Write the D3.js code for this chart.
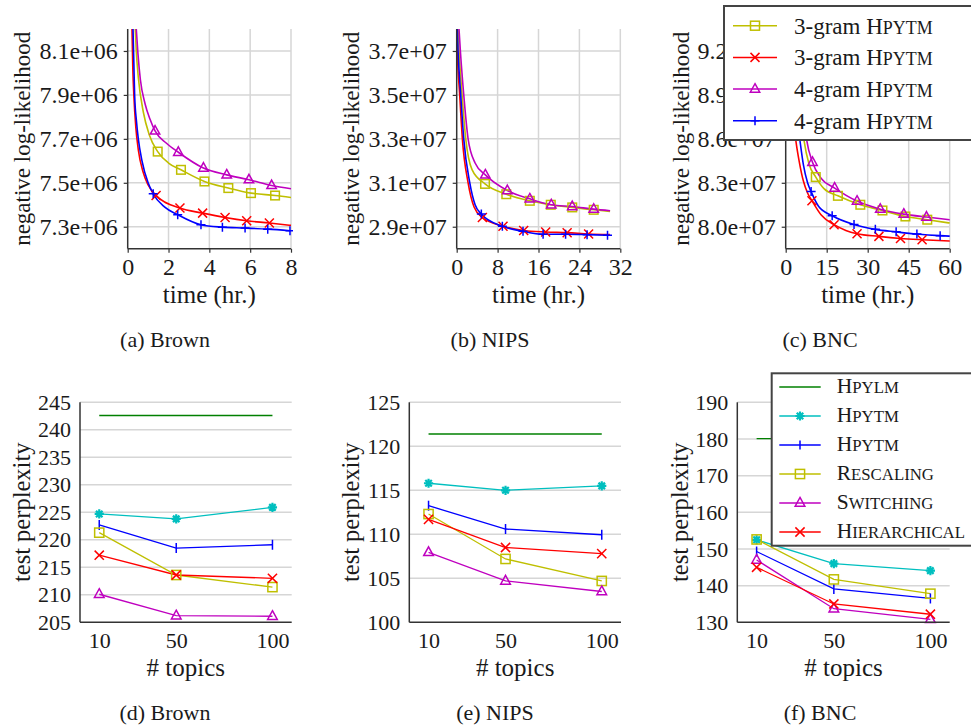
<!DOCTYPE html>
<html>
<head>
<meta charset="utf-8">
<script src="https://cdn.jsdelivr.net/npm/d3@7"></script>
<style>
  body { margin: 0; background: #fff; }
  svg text { font-family: "Liberation Serif", "Times New Roman", serif; fill: #1a1a1a; }
</style>
</head>
<body>
<div id="fig"></div>
<script>
// ---- top row: negative log-likelihood vs time (hr.)  [t, value, marker?]
var brownSq  = [[0.35,8.24e6],[0.42,8.10e6],[0.52,7.98e6],[0.77,7.82e6],[1.05,7.72e6],[1.47,7.642e6,1],[2.0,7.59e6],[2.61,7.559e6,1],[3.76,7.506e6,1],[4.93,7.476e6,1],[6.04,7.453e6,1],[7.22,7.442e6,1],[8,7.433e6]];
var brownX   = [[0.21,8.20e6],[0.25,8.02e6],[0.30,7.90e6],[0.40,7.75e6],[0.52,7.65e6],[0.75,7.55e6],[1.0,7.49e6],[1.39,7.442e6,1],[2.56,7.385e6,1],[3.67,7.362e6,1],[4.77,7.342e6,1],[5.83,7.327e6,1],[6.94,7.317e6,1],[8,7.306e6]];
var brownTri = [[0.42,8.20e6],[0.50,8.09e6],[0.62,7.97e6],[0.85,7.86e6],[1.09,7.79e6],[1.34,7.736e6,1],[1.9,7.68e6],[2.48,7.639e6,1],[3.71,7.567e6,1],[4.85,7.536e6,1],[5.94,7.514e6,1],[7.05,7.488e6,1],[8,7.473e6]];
var brownPlus= [[0.26,8.20e6],[0.30,8.05e6],[0.34,7.90e6],[0.43,7.78e6],[0.52,7.70e6],[0.70,7.60e6],[1.0,7.50e6],[1.25,7.45e6,1],[1.8,7.39e6],[2.45,7.355e6,1],[3.59,7.309e6,1],[4.64,7.298e6,1],[5.75,7.294e6,1],[6.86,7.289e6,1],[7.95,7.282e6,1]];

var nipsSq   = [[0.25,3.80e7],[0.46,3.70e7],[1.05,3.50e7],[1.77,3.30e7],[3.0,3.16e7],[5.54,3.095e7,1],[9.7,3.048e7,1],[14.3,3.018e7,1],[18.4,3.000e7,1],[22.6,2.988e7,1],[26.8,2.977e7,1],[30,2.970e7]];
var nipsX    = [[0.05,3.80e7],[0.13,3.70e7],[0.59,3.50e7],[1.11,3.30e7],[2.23,3.10e7],[3.4,2.99e7],[5.02,2.942e7,1],[9.06,2.902e7,1],[13.1,2.883e7,1],[17.4,2.876e7,1],[21.6,2.873e7,1],[25.8,2.867e7,1],[30,2.864e7]];
var nipsTri  = [[0.45,3.80e7],[0.72,3.70e7],[1.38,3.50e7],[2.23,3.30e7],[3.6,3.19e7],[5.6,3.136e7,1],[9.9,3.065e7,1],[14.3,3.027e7,1],[18.5,3.000e7,1],[22.6,2.992e7,1],[26.8,2.980e7,1],[30,2.973e7]];
var nipsPlus = [[0.10,3.80e7],[0.26,3.70e7],[0.79,3.50e7],[1.38,3.30e7],[2.56,3.10e7],[3.6,3.00e7],[4.82,2.958e7,1],[8.93,2.902e7,1],[12.97,2.879e7,1],[16.9,2.866e7,1],[21.3,2.866e7,1],[25.5,2.864e7,1],[29.5,2.861e7,1]];

var bncSq    = [[5.8,8.72e7],[6.7,8.59e7],[8.5,8.43e7],[11.0,8.339e7,1],[14,8.26e7],[19.1,8.211e7,1],[27.3,8.150e7,1],[35.4,8.111e7,1],[43.8,8.070e7,1],[51.8,8.048e7,1],[60,8.025e7]];
var bncX     = [[3.0,8.70e7],[3.7,8.59e7],[5.0,8.44e7],[6.5,8.31e7],[8.0,8.23e7],[9.6,8.178e7,1],[13,8.08e7],[17.7,8.014e7,1],[22,7.975e7],[26.1,7.952e7,1],[34.1,7.934e7,1],[42,7.920e7,1],[49.9,7.911e7,1],[60,7.902e7]];
var bncTri   = [[6.8,8.72e7],[7.7,8.59e7],[9.8,8.44e7,1],[13,8.33e7],[17.9,8.264e7,1],[26.1,8.175e7,1],[34.6,8.120e7,1],[43.2,8.086e7,1],[51.5,8.066e7,1],[60,8.048e7]];
var bncPlus  = [[4.3,8.72e7],[5.2,8.59e7],[6.5,8.42e7],[8.0,8.30e7],[9.3,8.24e7,1],[12,8.14e7],[17.0,8.075e7,1],[25.0,8.015e7,1],[32.8,7.982e7,1],[40.4,7.965e7,1],[48,7.950e7,1],[56.5,7.939e7,1],[60,7.936e7]];

var topLabels = ["3-gram", "3-gram", "4-gram", "4-gram"];

// ---- bottom row: test perplexity vs # topics
var topics = [10, 50, 100];
var brownHpylm        = [242.6, 242.6, 242.6];
var brownHpytmA       = [224.7, 223.8, 225.9];
var brownHpytmB       = [222.7, 218.5, 219.1];
var brownRescaling    = [221.3, 213.6, 211.4];
var brownSwitching    = [210.1, 206.2, 206.1];
var brownHierarchical = [217.2, 213.6, 213.0];

var nipsHpylm        = [121.4, 121.4, 121.4];
var nipsHpytmA       = [115.8, 115.0, 115.5];
var nipsHpytmB       = [113.25, 110.6, 109.95];
var nipsRescaling    = [112.3, 107.2, 104.7];
var nipsSwitching    = [107.95, 104.7, 103.5];
var nipsHierarchical = [111.7, 108.5, 107.8];

var bncHpylm        = [180.1, 180.1, 180.1];
var bncHpytmA       = [152.5, 146.0, 144.1];
var bncHpytmB       = [149.3, 139.1, 136.5];
var bncRescaling    = [152.6, 141.7, 137.8];
var bncSwitching    = [147.0, 133.7, 130.8];
var bncHierarchical = [145.0, 135.0, 132.2];

var bottomLabels = ["Hpylm", "Hpytm", "Hpytm", "Rescaling", "Switching", "Hierarchical"];

var FONT = '"Liberation Serif", "Times New Roman", serif';
var C = { y: "#bfbf00", r: "#ff0000", m: "#bf00bf", b: "#0000ff", c: "#00bfbf", g: "#008000" };

var svg = d3.select("#fig").append("svg").attr("width", 971).attr("height", 725)
  .style("font-family", FONT);

function marker(g, type, cx, cy, color, r) {
  var s = g.append("g").attr("transform", "translate(" + cx + "," + cy + ")")
    .attr("stroke", color).attr("fill", "none").attr("stroke-width", 1.5);
  if (type == "square") s.append("rect").attr("x", -r).attr("y", -r).attr("width", 2 * r).attr("height", 2 * r);
  else if (type == "tri") s.append("path").attr("d", "M0," + (-r * 1.2) + "L" + (r * 1.05) + "," + (r * 0.7) + "L" + (-r * 1.05) + "," + (r * 0.7) + "Z");
  else if (type == "x") s.append("path").attr("d", "M" + -r + "," + -r + "L" + r + "," + r + "M" + -r + "," + r + "L" + r + "," + -r);
  else if (type == "plus") s.append("path").attr("d", "M" + -r + ",0L" + r + ",0M0," + -r + "L0," + r);
  else if (type == "bar") s.append("path").attr("d", "M0," + -r + "L0," + r);
  else if (type == "star") {
    s.attr("stroke-width", 2.2);
    var d = "";
    [0, 45, 90, 135].forEach(function(a) {
      var dx = r * Math.cos(a * Math.PI / 180), dy = r * Math.sin(a * Math.PI / 180);
      d += "M" + -dx + "," + -dy + "L" + dx + "," + dy;
    });
    s.append("path").attr("d", d);
  }
}

// small caps by hand: first letter full size, the rest upper case and smaller
function smallCaps(text, word, size) {
  text.append("tspan").style("font-size", size + "px").text(word[0]);
  text.append("tspan").style("font-size", (size * 0.78) + "px").text(word.slice(1).toUpperCase());
}

function styleAxis(ax, size) {
  ax.attr("font-family", null).attr("font-size", null);
  ax.select(".domain").attr("stroke", "#333").attr("stroke-width", 1.5);
  ax.selectAll(".tick line").attr("stroke", "#333").attr("stroke-width", 1.2);
  ax.selectAll("text").style("font-family", FONT).style("font-size", size + "px").attr("fill", "#1a1a1a");
}

// ---------------- top row ----------------
var topTypes = ["square", "x", "tri", "plus"];
var topColors = [C.y, C.r, C.m, C.b];
var topPanels = [
  { left: 127.7, right: 291, xDom: [0, 8], xTicks: [0, 2, 4, 6, 8], yDom: [7.2e6, 8.2e6], yTicks: [7.3e6, 7.5e6, 7.7e6, 7.9e6, 8.1e6], exp: "e+06", div: 1e6,
    series: [brownSq, brownX, brownTri, brownPlus], titleX: 22, caption: "(a) Brown", capX: 165 },
  { left: 456.7, right: 620.3, xDom: [0, 32], xTicks: [0, 8, 16, 24, 32], yDom: [2.8e7, 3.8e7], yTicks: [2.9e7, 3.1e7, 3.3e7, 3.5e7, 3.7e7], exp: "e+07", div: 1e7,
    series: [nipsSq, nipsX, nipsTri, nipsPlus], titleX: 351, caption: "(b) NIPS", capX: 490 },
  { left: 785.7, right: 949.7, xDom: [0, 60], xTicks: [0, 15, 30, 45, 60], yDom: [7.85e7, 9.35e7], yTicks: [8.0e7, 8.3e7, 8.6e7, 8.9e7, 9.2e7], exp: "e+07", div: 1e7,
    series: [bncSq, bncX, bncTri, bncPlus], titleX: 681, caption: "(c) BNC", capX: 820 }
];
var topTop = 29, topBottom = 248.7;

topPanels.forEach(function(p, pi) {
  var x = d3.scaleLinear().domain(p.xDom).range([p.left, p.right]);
  var y = d3.scaleLinear().domain(p.yDom).range([topBottom, topTop]);
  var g = svg.append("g");

  // grid
  g.append("g").selectAll("line").data(p.yTicks).enter().append("line")
    .attr("x1", p.left).attr("x2", p.right).attr("y1", y).attr("y2", y)
    .attr("stroke", "#d6d6d6").attr("stroke-width", 1.5);
  g.append("g").selectAll("line").data(p.xTicks.slice(1)).enter().append("line")
    .attr("x1", x).attr("x2", x).attr("y1", topTop).attr("y2", topBottom)
    .attr("stroke", "#d6d6d6").attr("stroke-width", 1.5);

  // curves
  var clipId = "clipT" + pi;
  svg.append("clipPath").attr("id", clipId).append("rect")
    .attr("x", p.left).attr("y", topTop).attr("width", p.right - p.left + 2).attr("height", topBottom - topTop);
  var cg = g.append("g").attr("clip-path", "url(#" + clipId + ")");
  var line = d3.line().x(function(d) { return x(d[0]); }).y(function(d) { return y(d[1]); }).curve(d3.curveMonotoneX);
  p.series.forEach(function(s, si) {
    cg.append("path").datum(s).attr("d", line).attr("fill", "none")
      .attr("stroke", topColors[si]).attr("stroke-width", 1.6);
  });
  p.series.forEach(function(s, si) {
    s.filter(function(d) { return d[2]; }).forEach(function(d) {
      marker(cg, topTypes[si], x(d[0]), y(d[1]), topColors[si], si == 0 ? 4.3 : 4.5);
    });
  });

  // axes
  var ax = g.append("g").attr("transform", "translate(0," + topBottom + ")")
    .call(d3.axisBottom(x).tickValues(p.xTicks).tickSize(4).tickPadding(5).tickFormat(d3.format("d")));
  var ay = g.append("g").attr("transform", "translate(" + p.left + ",0)")
    .call(d3.axisLeft(y).tickValues(p.yTicks).tickSize(4).tickPadding(6)
      .tickFormat(function(d) { return (d / p.div).toFixed(1) + p.exp; }));
  styleAxis(ax, 24);
  styleAxis(ay, 24);
  ax.select(".domain").attr("d", "M" + p.left + ",0H" + p.right);
  ay.select(".domain").attr("d", "M0," + topTop + "V" + topBottom);

  g.append("text").attr("x", (p.left + p.right) / 2).attr("y", 303).attr("text-anchor", "middle")
    .style("font-size", "25px").text("time (hr.)");
  g.append("text").attr("transform", "translate(" + p.titleX + "," + (topTop + topBottom) / 2 + ") rotate(-90)")
    .attr("text-anchor", "middle").attr("dy", "0.35em").style("font-size", "23px").text("negative log-likelihood");
  g.append("text").attr("x", p.capX).attr("y", 347).attr("text-anchor", "middle")
    .style("font-size", "22px").text(p.caption);
});

// top legend
var lgT = svg.append("g");
lgT.append("rect").attr("x", 724).attr("y", 6).attr("width", 260).attr("height", 134)
  .attr("fill", "#fff").attr("stroke", "#444").attr("stroke-width", 2);
topLabels.forEach(function(lab, i) {
  var cy = 25.7 + i * 31.7;
  lgT.append("line").attr("x1", 733).attr("x2", 777).attr("y1", cy).attr("y2", cy)
    .attr("stroke", topColors[i]).attr("stroke-width", 1.5);
  marker(lgT, topTypes[i], 755, cy, topColors[i], 4.5);
  var t = lgT.append("text").attr("x", 794).attr("y", cy).attr("dy", "0.35em").style("font-size", "23px");
  t.append("tspan").text(lab + " ");
  smallCaps(t, "Hpytm", 23);
});

// ---------------- bottom row ----------------
var botTypes = [null, "star", "bar", "square", "tri", "x"];
var botColors = [C.g, C.c, C.b, C.y, C.m, C.r];
var botPanels = [
  { left: 80, right: 291.7, yDom: [205, 245], yTicks: d3.range(205, 246, 5),
    series: [brownHpylm, brownHpytmA, brownHpytmB, brownRescaling, brownSwitching, brownHierarchical], titleX: 21, caption: "(d) Brown", capX: 165 },
  { left: 409.3, right: 621, yDom: [100, 125], yTicks: d3.range(100, 126, 5),
    series: [nipsHpylm, nipsHpytmA, nipsHpytmB, nipsRescaling, nipsSwitching, nipsHierarchical], titleX: 350, caption: "(e) NIPS", capX: 495 },
  { left: 737.3, right: 949.7, yDom: [130, 190], yTicks: d3.range(130, 191, 10),
    series: [bncHpylm, bncHpytmA, bncHpytmB, bncRescaling, bncSwitching, bncHierarchical], titleX: 679, caption: "(f) BNC", capX: 820 }
];
var botTop = 402.3, botBottom = 622.3;

botPanels.forEach(function(p) {
  var x = d3.scaleLinear().domain([0, 110]).range([p.left, p.right]);
  var y = d3.scaleLinear().domain(p.yDom).range([botBottom, botTop]);
  var g = svg.append("g");

  g.append("g").selectAll("line").data(p.yTicks.slice(1)).enter().append("line")
    .attr("x1", p.left).attr("x2", p.right).attr("y1", y).attr("y2", y)
    .attr("stroke", "#d6d6d6").attr("stroke-width", 1.5);

  var line = d3.line().x(function(d, i) { return x(topics[i]); }).y(function(d) { return y(d); });
  p.series.forEach(function(s, si) {
    g.append("path").datum(s).attr("d", line).attr("fill", "none")
      .attr("stroke", botColors[si]).attr("stroke-width", 1.3);
  });
  p.series.forEach(function(s, si) {
    if (!botTypes[si]) return;
    s.forEach(function(d, i) {
      marker(g, botTypes[si], x(topics[i]), y(d), botColors[si], si == 2 ? 5 : 4.6);
    });
  });

  var ax = g.append("g").attr("transform", "translate(0," + botBottom + ")")
    .call(d3.axisBottom(x).tickValues(topics).tickSize(0).tickPadding(10));
  var ay = g.append("g").attr("transform", "translate(" + p.left + ",0)")
    .call(d3.axisLeft(y).tickValues(p.yTicks).tickSize(0).tickPadding(9));
  styleAxis(ax, 22);
  styleAxis(ay, 22);
  ax.select(".domain").attr("d", "M" + p.left + ",0H" + p.right);
  ay.select(".domain").attr("d", "M0," + botTop + "V" + botBottom);

  g.append("text").attr("x", (p.left + p.right) / 2).attr("y", 676).attr("text-anchor", "middle")
    .style("font-size", "25px").text("# topics");
  g.append("text").attr("transform", "translate(" + p.titleX + "," + (botTop + botBottom) / 2 + ") rotate(-90)")
    .attr("text-anchor", "middle").attr("dy", "0.35em").style("font-size", "24.5px").text("test perplexity");
  g.append("text").attr("x", p.capX).attr("y", 720).attr("text-anchor", "middle")
    .style("font-size", "22px").text(p.caption);
});

// bottom legend
var lgB = svg.append("g");
lgB.append("rect").attr("x", 771.7).attr("y", 373.3).attr("width", 220).attr("height", 172.4)
  .attr("fill", "#fff").attr("stroke", "#444").attr("stroke-width", 2);
bottomLabels.forEach(function(lab, i) {
  var cy = 387 + i * 29;
  lgB.append("line").attr("x1", 779.3).attr("x2", 820.7).attr("y1", cy).attr("y2", cy)
    .attr("stroke", botColors[i]).attr("stroke-width", 1.5);
  if (botTypes[i]) marker(lgB, botTypes[i], 800, cy, botColors[i], 4.6);
  var t = lgB.append("text").attr("x", 836.7).attr("y", cy).attr("dy", "0.35em");
  smallCaps(t, lab, 21.5);
});
</script>
</body>
</html>
